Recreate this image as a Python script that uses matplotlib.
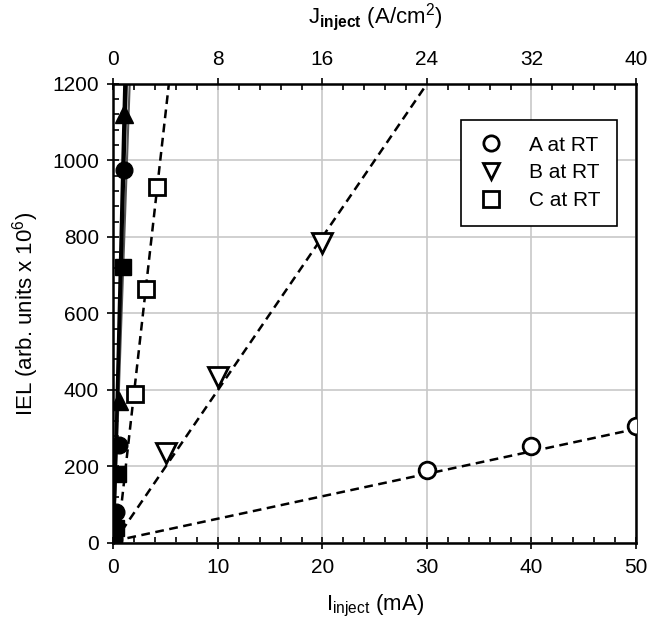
import numpy as np
import matplotlib
matplotlib.use("Agg")
import matplotlib.pyplot as plt
from matplotlib.ticker import MultipleLocator, FixedLocator

plt.rcParams['font.family'] = ['Liberation Sans', 'DejaVu Sans']
plt.rcParams['mathtext.fontset'] = 'custom'
plt.rcParams['mathtext.rm'] = 'Liberation Sans'
plt.rcParams['mathtext.it'] = 'Liberation Sans'
plt.rcParams['mathtext.bf'] = 'Liberation Sans:bold'

# open symbols: room temperature
a_rt_x = [30, 40, 50]
a_rt_y = [191, 254, 306]
b_rt_x = [5, 10, 20]
b_rt_y = [235, 434, 784]
c_rt_x = [2.05, 3.1, 4.15]
c_rt_y = [390, 664, 931]

# filled symbols (low current data)
a_lt_x = [0.05, 0.1, 0.2, 0.5, 1.0]
a_lt_y = [10, 30, 80, 255, 975]
b_lt_x = [0.05, 0.1, 0.5, 1.0]
b_lt_y = [12, 60, 372, 1120]
c_lt_x = [0.05, 0.2, 0.4, 0.9]
c_lt_y = [8, 40, 180, 722]

# linear fits (end points)
fit_a_rt = ([0, 50], [5, 298])
fit_b_rt = ([0, 30], [0, 1200])
fit_c_rt = ([0.35, 5.3], [0, 1200])
fit_a_lt = ([0, 1.23], [0, 1200])
fit_b_lt = ([0, 1.07], [0, 1200])
fit_c_lt = ([0, 1.55], [0, 1200])

# top axis: current density ticks
j_ticks = [0, 8, 16, 24, 32, 40]
j_minor = [1.6 * k for k in range(26)]

fig = plt.figure(figsize=(6.61, 6.26), dpi=100)
ax = fig.add_axes([0.1717, 0.1326, 0.7903, 0.7334])

ax.grid(True, which='major', color='#c8c8c8', lw=1.2, zorder=0)

for fx, fy in (fit_a_rt, fit_b_rt, fit_c_rt):
    ax.plot(fx, fy, color='black', lw=1.8, ls=(0, (3.5, 2.2)), zorder=2)
ax.plot(*fit_c_lt, color='#555555', lw=1.5, zorder=2)
ax.plot(*fit_a_lt, color='black', lw=2.2, zorder=2)
ax.plot(*fit_b_lt, color='black', lw=2.2, zorder=2)

opn = dict(ls='none', mfc='white', mec='black', mew=2, zorder=4)
ax.plot(a_rt_x, a_rt_y, marker='o', ms=12, label='A at RT', **opn)
ax.plot(b_rt_x, b_rt_y, marker='v', ms=14, label='B at RT', **opn)
ax.plot(c_rt_x, c_rt_y, marker='s', ms=11, label='C at RT', **opn)

fil = dict(ls='none', mfc='black', mec='black', zorder=5)
ax.plot(a_lt_x, a_lt_y, marker='o', ms=12, **fil)
ax.plot(b_lt_x, b_lt_y, marker='^', ms=13, **fil)
ax.plot(c_lt_x, c_lt_y, marker='s', ms=11, **fil)

ax.set_xlim(0, 50)
ax.set_ylim(0, 1200)
ax.xaxis.set_major_locator(MultipleLocator(10))
ax.xaxis.set_minor_locator(MultipleLocator(2))
ax.yaxis.set_major_locator(MultipleLocator(200))
ax.yaxis.set_minor_locator(MultipleLocator(40))
ax.tick_params(which='major', direction='inout', length=9, width=1.2, labelsize=15, pad=6)
ax.tick_params(which='minor', direction='in', length=4, width=1.2)
ax.tick_params(axis='y', which='both', right=False)
for s in ax.spines.values():
    s.set_linewidth(1.8)

ax.set_xlabel('I$_{inject}$ (mA)', fontsize=16, labelpad=12)
ax.set_ylabel('IEL (arb. units x 10$^6$)', fontsize=16, labelpad=8)

top = ax.secondary_xaxis('top', functions=(lambda i: i * 0.8, lambda j: j / 0.8))
top.xaxis.set_major_locator(FixedLocator(j_ticks))
top.xaxis.set_minor_locator(FixedLocator(j_minor))
top.tick_params(which='major', direction='inout', length=9, width=1.2, labelsize=15, pad=6)
top.tick_params(which='minor', direction='in', length=4, width=1.2)
top.set_xlabel('J$_{\\mathbf{inject}}$ (A/cm$^2$)', fontsize=16, labelpad=20)

leg = ax.legend(loc='upper right', bbox_to_anchor=(0.975, 0.935), fontsize=15,
                frameon=True, fancybox=False, edgecolor='black', framealpha=1,
                handlelength=1.4, handletextpad=1.15, borderpad=0.75,
                labelspacing=0.42, borderaxespad=0.3)
leg.get_frame().set_linewidth(1.2)
for h in leg.legend_handles:
    h.set_markersize(11)

fig.savefig('out.png', dpi=100)
